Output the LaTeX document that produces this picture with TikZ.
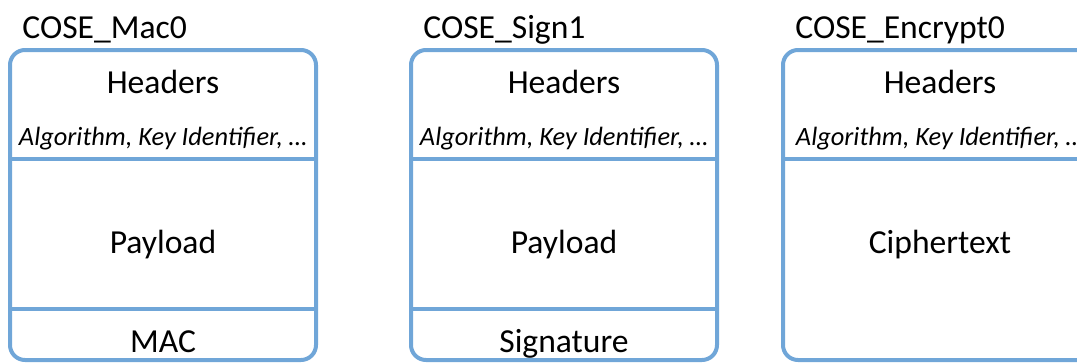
\documentclass[tikz,border=0pt]{standalone}
\usepackage{fontspec}
\setmainfont{Carlito}
\usetikzlibrary{positioning}
\definecolor{coseblue}{RGB}{112,166,216}
\tikzset{
  msgbox/.style={draw=coseblue, line width=2pt, rounded corners=7.5pt},
  divider/.style={draw=coseblue, line width=2pt},
  title/.style={anchor=base west, inner sep=0pt, font=\fontsize{16.8}{20}\selectfont},
  field/.style={anchor=base, inner sep=0pt, font=\fontsize{16.8}{20}\selectfont},
  hint/.style={anchor=base, inner sep=0pt, font=\fontsize{13.2}{16}\selectfont\itshape},
}

\begin{document}
\begin{tikzpicture}[x=0.5pt, y=-0.5pt]
  \clip (0,0) rectangle (1077,364);

  % COSE_Mac0
  \draw[msgbox] (10,50) rectangle (316,360);
  \draw[divider] (10,159) -- (316,159);
  \draw[divider] (10,309) -- (316,309);
  \node[title] (mactitle) at (22,39) {COSE\_Mac0};
  \node[field] (machdr) at (163,93) {Headers};
  \node[hint] (macalg) at (163,145) {Algorithm, Key Identifier, \dots};
  \node[field] (macpay) at (163,253) {Payload};
  \node[field] (mactag) at (163,352) {MAC};

  % COSE_Sign1
  \draw[msgbox] (411,50) rectangle (717,360);
  \draw[divider] (411,159) -- (717,159);
  \draw[divider] (411,309) -- (717,309);
  \node[title] (signtitle) at (423,39) {COSE\_Sign1};
  \node[field] (signhdr) at (564,93) {Headers};
  \node[hint] (signalg) at (564,145) {Algorithm, Key Identifier, \dots};
  \node[field] (signpay) at (564,253) {Payload};
  \node[field] (signsig) at (564,352) {Signature};

  % COSE_Encrypt0 (runs past the right edge)
  \draw[msgbox] (783,50) rectangle (1097,360);
  \draw[divider] (783,159) -- (1097,159);
  \node[title] (enctitle) at (795,39) {COSE\_Encrypt0};
  \node[field] (enchdr) at (940,93) {Headers};
  \node[hint] (encalg) at (940,145) {Algorithm, Key Identifier, \dots};
  \node[field] (enccip) at (940,253) {Ciphertext};
\end{tikzpicture}
\end{document}
